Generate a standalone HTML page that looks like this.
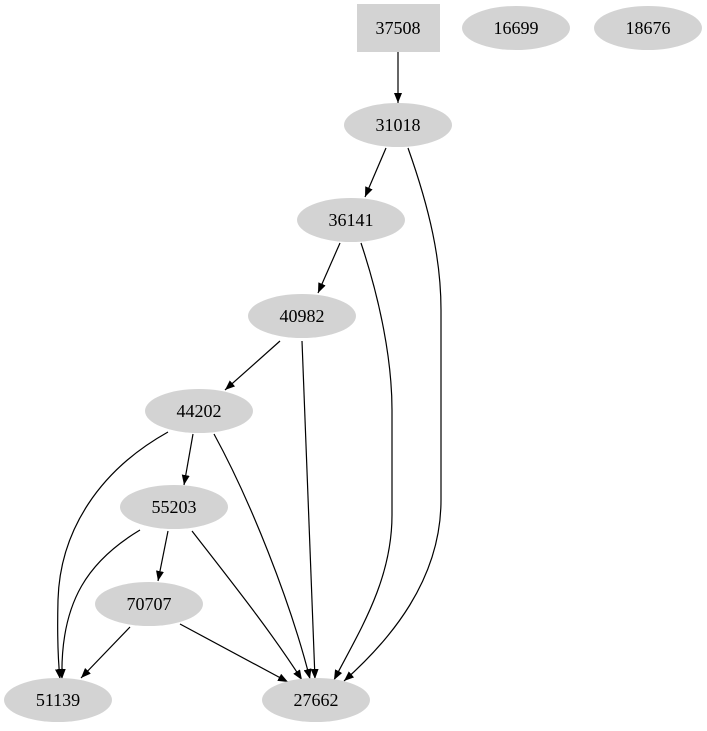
<!DOCTYPE html>
<html><head><meta charset="utf-8"><style>
html,body{margin:0;padding:0;background:#fff;}
svg{display:block;}
text{font-family:"Liberation Serif",serif;font-size:18px;fill:#000;text-anchor:middle;}
</style></head><body>
<svg width="707" height="731" viewBox="0 0 707 731" xmlns="http://www.w3.org/2000/svg">
<defs>
<marker id="a" markerWidth="10" markerHeight="8" refX="10" refY="4" orient="auto" markerUnits="userSpaceOnUse">
<polygon points="0,0 10,4 0,8" fill="#000"/>
</marker>
</defs>
<g fill="none" stroke="#000" stroke-width="1.2">
<path d="M398,52 L398,103" marker-end="url(#a)"/>
<path d="M386,148 L365,197" marker-end="url(#a)"/>
<path d="M408,148 C430,210 441,260 441,310 L441,500 C441,580 390,640 344,681" marker-end="url(#a)"/>
<path d="M340,243 L318,293" marker-end="url(#a)"/>
<path d="M361,243 C380,300 392,360 392,410 L392,515 C392,580 360,630 334,680" marker-end="url(#a)"/>
<path d="M280,341 L225,390" marker-end="url(#a)"/>
<path d="M302,341 L315,679" marker-end="url(#a)"/>
<path d="M193,434 L184,485" marker-end="url(#a)"/>
<path d="M168,432 C100,470 60,530 58,600 C57,640 58,660 60,679" marker-end="url(#a)"/>
<path d="M214,434 C250,500 290,600 310,679" marker-end="url(#a)"/>
<path d="M168,531 L158,581" marker-end="url(#a)"/>
<path d="M140,530 C90,560 60,600 62,679" marker-end="url(#a)"/>
<path d="M192,531 C230,580 270,630 302,680" marker-end="url(#a)"/>
<path d="M130,627 L81,678" marker-end="url(#a)"/>
<path d="M180,624 L288,682" marker-end="url(#a)"/>
</g>
<g fill="#d3d3d3">
<rect x="357" y="4" width="83" height="48"/>
<ellipse cx="516" cy="28" rx="54" ry="22"/>
<ellipse cx="648" cy="28" rx="54" ry="22"/>
<ellipse cx="398" cy="125" rx="54" ry="22"/>
<ellipse cx="351" cy="220" rx="54" ry="22"/>
<ellipse cx="302" cy="316" rx="54" ry="22"/>
<ellipse cx="199" cy="411" rx="54" ry="22"/>
<ellipse cx="174" cy="507" rx="54" ry="22"/>
<ellipse cx="149" cy="604" rx="54" ry="22"/>
<ellipse cx="58" cy="700" rx="54" ry="22"/>
<ellipse cx="316" cy="700" rx="54" ry="22"/>
</g>
<text x="398" y="34">37508</text>
<text x="516" y="34">16699</text>
<text x="648" y="34">18676</text>
<text x="398" y="131">31018</text>
<text x="351" y="226">36141</text>
<text x="302" y="322">40982</text>
<text x="199" y="417">44202</text>
<text x="174" y="513">55203</text>
<text x="149" y="610">70707</text>
<text x="58" y="706">51139</text>
<text x="316" y="706">27662</text>
</svg>
</body></html>
